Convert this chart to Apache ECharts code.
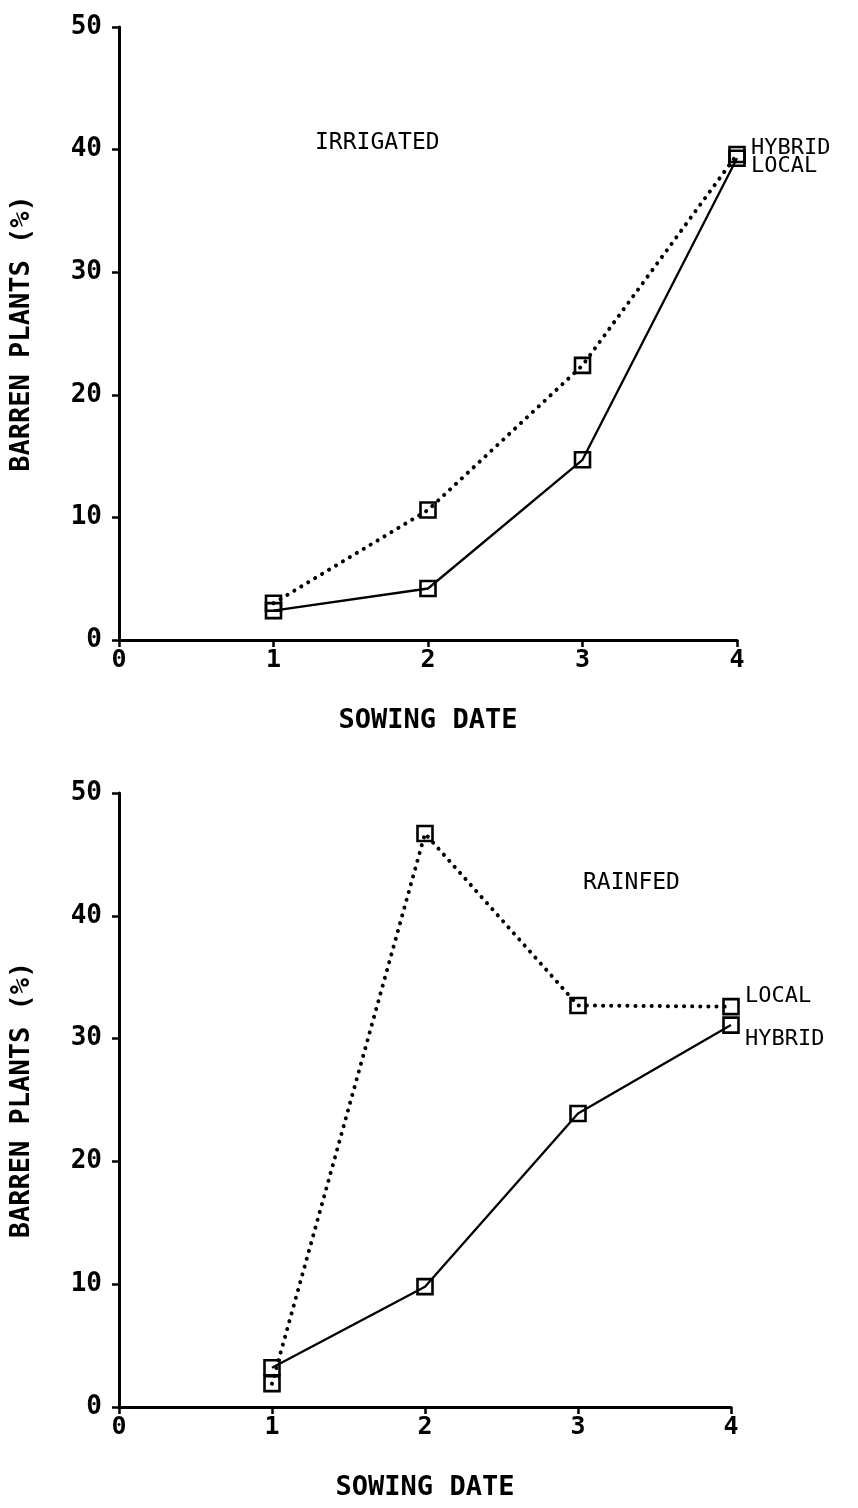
<!DOCTYPE html>
<html><head><meta charset="utf-8">
<script src="https://cdn.jsdelivr.net/npm/echarts@6/dist/echarts.min.js"></script>
<style>html,body{margin:0;padding:0;background:#fff}#c{width:858px;height:1508px}</style>
</head><body><div id="c"></div>
<script>
// ---- data ----
const sowingDates = [1, 2, 3, 4];
const irrigatedLocal  = [3.0, 10.6, 22.4, 39.6];
const irrigatedHybrid = [2.4, 4.2, 14.7, 39.3];
const rainfedLocal    = [1.9, 46.7, 32.7, 32.6];
const rainfedHybrid   = [3.2, 9.8, 23.9, 31.1];
const panelTitles = ['IRRIGATED', 'RAINFED'];
const seriesNames = ['LOCAL', 'HYBRID'];
const xAxisTitle = 'SOWING DATE';
const yAxisTitle = 'BARREN PLANTS (%)';
const xMin = 0, xMax = 4, xStep = 1;
const yMin = 0, yMax = 50, yStep = 10;

// ---- styling ----
const FONT = '"DejaVu Sans Mono", monospace';
const INK = '#000';

function pts(vals) { return vals.map((v, i) => [sowingDates[i], v]); }

const grids = [
  { left: 116, right: 121, top: 27, height: 613 },
  { left: 113, right: 127, top: 793, height: 614 }
];

function xAx(i) {
  return {
    gridIndex: i, type: 'value', min: xMin, max: xMax, interval: xStep,
    name: xAxisTitle, nameLocation: 'middle', nameGap: 67,
    nameTextStyle: { fontFamily: FONT, fontSize: 27, fontWeight: 'bold', color: INK },
    axisLine: { onZero: false, lineStyle: { color: INK, width: 3 } },
    axisTick: { length: 7, lineStyle: { color: INK, width: 2.5 } },
    axisLabel: { fontFamily: FONT, fontSize: 25, fontWeight: 'bold', color: INK, margin: 8 },
    splitLine: { show: false }
  };
}
function yAx(i) {
  return {
    gridIndex: i, type: 'value', min: yMin, max: yMax, interval: yStep,
    name: yAxisTitle, nameLocation: 'middle', nameGap: 84, nameRotate: 90,
    nameTextStyle: { fontFamily: FONT, fontSize: 27, fontWeight: 'bold', color: INK },
    axisLine: { onZero: false, lineStyle: { color: INK, width: 3 } },
    axisTick: { length: 7, lineStyle: { color: INK, width: 2.5 } },
    axisLabel: { fontFamily: FONT, fontSize: 26, fontWeight: 'bold', color: INK, margin: 17 },
    splitLine: { show: false }
  };
}

function ser(i, name, vals, dotted, labelOffsetY) {
  return {
    type: 'line', name: name, xAxisIndex: i, yAxisIndex: i,
    data: pts(vals),
    symbol: 'rect', symbolSize: 15,
    itemStyle: { color: 'rgba(255,255,255,0)', borderColor: INK, borderWidth: 2.6 },
    lineStyle: dotted
      ? { color: INK, width: 4, type: [0.1, 8], cap: 'round' }
      : { color: INK, width: 2.3, type: 'solid' },
    endLabel: {
      show: true, formatter: name, color: INK,
      fontFamily: FONT, fontSize: 22, offset: [6, labelOffsetY]
    },
    emphasis: { disabled: true },
    animation: false, z: 3
  };
}

const option = {
  backgroundColor: '#fff',
  animation: false,
  title: [
    { text: panelTitles[0], left: 310, top: 127,
      textStyle: { fontFamily: FONT, fontSize: 23, fontWeight: 'normal', color: INK } },
    { text: panelTitles[1], left: 578, top: 867,
      textStyle: { fontFamily: FONT, fontSize: 23, fontWeight: 'normal', color: INK } }
  ],
  grid: grids,
  xAxis: [xAx(0), xAx(1)],
  yAxis: [yAx(0), yAx(1)],
  series: [
    ser(0, seriesNames[0], irrigatedLocal, true, 12),
    ser(0, seriesNames[1], irrigatedHybrid, false, -10),
    ser(1, seriesNames[0], rainfedLocal, true, -10),
    ser(1, seriesNames[1], rainfedHybrid, false, 14)
  ]
};

const chart = echarts.init(document.getElementById('c'), null, { renderer: 'canvas' });
chart.setOption(option);
</script>
</body></html>
